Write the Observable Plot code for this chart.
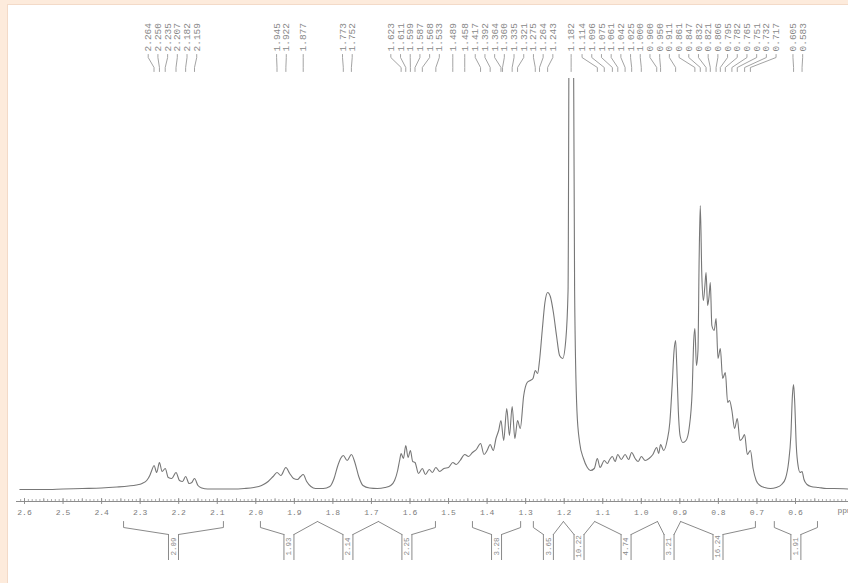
<!DOCTYPE html>
<html><head><meta charset="utf-8">
<script src="https://cdn.jsdelivr.net/npm/d3@7"></script>
<script src="https://cdn.jsdelivr.net/npm/@observablehq/plot@0.6"></script>
<style>
html,body{margin:0;padding:0;background:#fdebdc;}
#wrap{position:relative;width:848px;height:583px;overflow:hidden;background:#fdebdc;}
#panel{position:absolute;left:7px;top:4px;width:845px;height:585px;background:#fff;border:1px solid #f3dac8;}
#chart{position:absolute;left:0;top:0;}
</style></head><body>
<div id="wrap"><div id="panel"></div><div id="chart"></div></div>
<script>
// ---- spectrum (chemical shift in ppm, relative intensity) ----
const ppm = [2.612,2.55,2.50,2.45,2.40,2.36,2.33,2.31,2.295,2.283,2.275,2.270,2.264,2.257,2.250,2.243,2.235,2.227,2.218,2.207,2.198,2.190,2.182,2.173,2.166,2.159,2.150,2.140,2.125,2.10,2.06,2.03,2.005,1.985,1.968,1.955,1.945,1.935,1.922,1.912,1.902,1.892,1.884,1.877,1.868,1.857,1.845,1.825,1.808,1.797,1.788,1.780,1.773,1.763,1.752,1.743,1.733,1.722,1.705,1.685,1.665,1.650,1.640,1.632,1.627,1.623,1.617,1.611,1.605,1.599,1.593,1.587,1.578,1.568,1.560,1.550,1.542,1.533,1.523,1.512,1.500,1.489,1.480,1.470,1.458,1.448,1.438,1.428,1.417,1.408,1.400,1.392,1.384,1.377,1.370,1.364,1.357,1.349,1.342,1.335,1.328,1.321,1.314,1.305,1.296,1.288,1.281,1.275,1.269,1.264,1.257,1.250,1.243,1.236,1.228,1.220,1.212,1.204,1.196,1.190,1.186,1.178,1.173,1.167,1.160,1.150,1.140,1.132,1.122,1.114,1.107,1.096,1.088,1.082,1.075,1.068,1.061,1.052,1.042,1.033,1.025,1.016,1.008,1.000,0.990,0.980,0.970,0.960,0.955,0.950,0.942,0.933,0.926,0.920,0.915,0.911,0.908,0.904,0.899,0.892,0.884,0.876,0.868,0.864,0.861,0.857,0.853,0.850,0.847,0.843,0.839,0.835,0.832,0.828,0.824,0.821,0.817,0.811,0.806,0.801,0.795,0.789,0.782,0.776,0.771,0.765,0.758,0.751,0.744,0.738,0.732,0.725,0.717,0.710,0.702,0.692,0.680,0.665,0.650,0.636,0.626,0.618,0.612,0.608,0.605,0.602,0.598,0.593,0.588,0.583,0.578,0.570,0.560,0.540,0.520,0.500,0.460];
const intensity = [1,1,1.5,2,2.5,3.5,4.5,5.5,7,10,15,20,25,18,28,19,22,13,12,18,10,9,14,7,8,12,5,2.5,1.5,1.5,1.5,2,3,5,9,14,18,15,23,17,12,11,14,16,9,4,2,2,4,12,24,32,35,30,36,28,14,5,2.5,2,3,5,10,20,30,37,32,45,33,40,29,28,17,22,16,21,18,23,19,22,23,28,26,30,36,34,38,41,47,36,40,46,40,52,60,70,50,82,55,84,52,70,62,95,108,110,112,120,117,130,160,188,198,194,178,155,135,132,150,200,600,600,200,80,48,32,23,20,22,32,23,30,27,31,34,29,36,31,36,31,38,32,29,34,30,32,36,43,37,46,40,50,68,105,140,150,125,80,54,48,50,62,100,150,162,125,140,230,285,215,190,205,218,185,195,208,165,160,172,132,142,112,118,88,90,80,62,72,50,52,56,36,40,22,10,5,3,2,3,6,12,28,55,95,106,88,45,24,18,19,11,6,4,3,2,2,1.5];

// ---- peak picking labels ----
const peakLabels = ["2.264","2.250","2.235","2.207","2.182","2.159","1.945","1.922","1.877","1.773","1.752","1.623","1.611","1.599","1.587","1.568","1.533","1.489","1.458","1.417","1.392","1.364","1.360","1.335","1.321","1.275","1.264","1.243","1.182","1.114","1.096","1.075","1.061","1.042","1.025","1.000","0.960","0.950","0.911","0.861","0.847","0.832","0.821","0.806","0.795","0.782","0.765","0.751","0.732","0.717","0.605","0.583"];

// ---- integrals ----
const integralStart = [2.343,1.988,1.840,1.682,1.438,1.280,1.202,1.121,0.958,0.898,0.655];
const integralEnd   = [2.084,1.840,1.682,1.534,1.313,1.202,1.121,0.958,0.898,0.704,0.543];
const integralValues = ["2.09","1.93","2.14","2.25","3.28","3.65","10.22","4.74","3.21","16.24","1.91"];

// ---- axis ----
const axisTicks = [2.6,2.5,2.4,2.3,2.2,2.1,2.0,1.9,1.8,1.7,1.6,1.5,1.4,1.3,1.2,1.1,1.0,0.9,0.8,0.7,0.6];

// layout helpers
const X0 = 24, PX = 385.5;
const toPx = v => X0 + (2.6 - v) * PX;
const toPpm = p => 2.6 - (p - X0) / PX;
const minorTicks = d3.range(47, 262).map(i => i / 100);
const halfTicks = d3.range(5, 26).map(i => i / 10 + 0.05).filter(v => v > 0.46 && v < 2.61);

// spread peak labels (min spacing S px), centred on their peaks
const peaks = peakLabels.map(s => +s);
const S = 9.7;
let clusters = peaks.map((v, i) => ({idx: [i], c: toPx(v)}));
let changed = true;
while (changed) {
  changed = false;
  for (let i = 0; i < clusters.length - 1; i++) {
    const a = clusters[i], b = clusters[i + 1];
    const aR = a.c + (a.idx.length - 1) / 2 * S, bL = b.c - (b.idx.length - 1) / 2 * S;
    if (bL - aR < S) {
      const idx = a.idx.concat(b.idx);
      clusters.splice(i, 2, {idx, c: d3.mean(idx, j => toPx(peaks[j]))});
      changed = true; break;
    }
  }
}
const labelPpm = [];
clusters.forEach(cl => cl.idx.forEach((j, k) => labelPpm[j] = toPpm(cl.c + (k - (cl.idx.length - 1) / 2) * S)));
const connectors = [];
peaks.forEach((p, i) => {
  connectors.push({z: i, x: labelPpm[i], y: 436}, {z: i, x: labelPpm[i], y: 433},
                  {z: i, x: p, y: 423}, {z: i, x: p, y: 419});
});

// integral brackets
const dd = 5 / PX;
const isShared = v => integralStart.some(s => Math.abs(s - v) < 1e-9) && integralEnd.some(e => Math.abs(e - v) < 1e-9);
const mids = integralStart.map((s, i) => (s + integralEnd[i]) / 2);
const segs = [];
integralStart.forEach((s, i) => {
  const e = integralEnd[i], m = mids[i];
  const L = isShared(s) ? [[s, -31]] : [[s, -31], [s, -37]];
  L.push([m + dd, -44]);
  L.forEach(p => segs.push({z: "L" + i, x: p[0], y: p[1]}));
  const R = [[m - dd, -44]].concat(isShared(e) ? [[e, -31]] : [[e, -37], [e, -31]]);
  R.forEach(p => segs.push({z: "R" + i, x: p[0], y: p[1]}));
});

const gray = "#7c7c7c";
const mono = "Liberation Mono, DejaVu Sans Mono, monospace";

const chart = Plot.plot({
  width: 848, height: 583,
  marginLeft: 16, marginRight: 0, marginTop: 78, marginBottom: 82,
  x: {domain: [2.6, 0.6], range: [X0, toPx(0.6)], axis: null},
  y: {domain: [0, 412], range: [490, 78], axis: null},
  style: {background: "transparent", overflow: "visible"},
  marks: [
    Plot.line(ppm, {x: ppm, y: intensity, curve: "monotone-x", stroke: "#777", strokeWidth: 1.1, clip: true}),
    // axis
    Plot.frame({anchor: "bottom", stroke: "#8c8c8c", strokeWidth: 1}),
    Plot.ruleX(minorTicks, {x: d => d, y1: -11, y2: -9, stroke: "#999", strokeWidth: 0.8}),
    Plot.ruleX(halfTicks, {x: d => d, y1: -12, y2: -8, stroke: "#999", strokeWidth: 0.8}),
    Plot.ruleX(axisTicks, {x: d => d, y1: -14, y2: -8, stroke: "#888", strokeWidth: 0.9}),
    Plot.text(axisTicks, {x: d => d, y: -22, text: d => d.toFixed(1), fontFamily: mono, fontSize: 8, fill: gray}),
    Plot.text(["ppm"], {frameAnchor: "bottom-right", dx: -11, dy: 11, textAnchor: "start", fontFamily: mono, fontSize: 8, fill: gray}),
    // peak labels
    Plot.line(connectors, {x: "x", y: "y", z: "z", stroke: "#999", strokeWidth: 0.9}),
    Plot.text(peakLabels, {x: (d, i) => labelPpm[i], y: 439, text: d => d, rotate: -90, textAnchor: "start", fontFamily: mono, fontSize: 9.5, fill: "#888"}),
    // integrals
    Plot.line(segs, {x: "x", y: "y", z: "z", stroke: "#8a8a8a", strokeWidth: 1}),
    Plot.ruleX(mids, {x: d => d + dd, y1: -44, y2: -70, stroke: "#8a8a8a", strokeWidth: 1}),
    Plot.ruleX(mids, {x: d => d - dd, y1: -44, y2: -70, stroke: "#8a8a8a", strokeWidth: 1}),
    Plot.text(integralValues, {x: (d, i) => mids[i], y: -56, text: d => d, rotate: -90, fontFamily: mono, fontSize: 7.5, fill: "#888"})
  ]
});
document.getElementById("chart").appendChild(chart);
</script></body></html>
